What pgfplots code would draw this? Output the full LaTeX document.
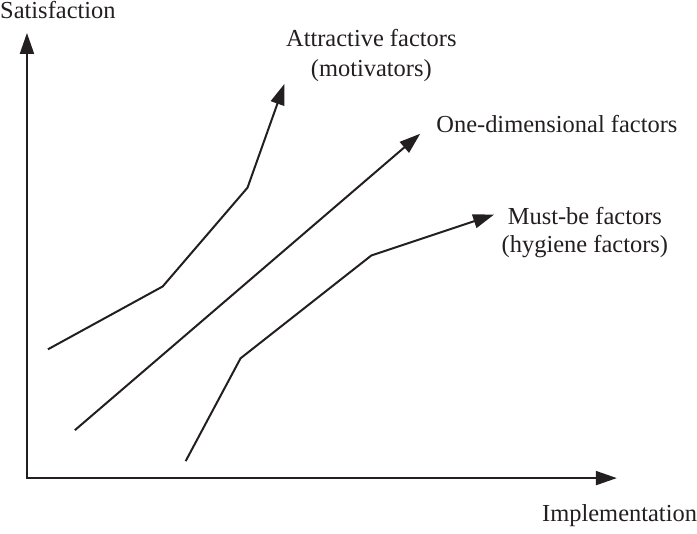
\documentclass[border=0pt]{standalone}
\usepackage{pgfplots}
\pgfplotsset{compat=1.18}
\usepackage{fontspec}
\setmainfont{Liberation Serif}
\usetikzlibrary{arrows.meta}
\definecolor{ink}{HTML}{231F20}
\begin{document}
\begin{tikzpicture}
\begin{axis}[
  width=697pt, height=535pt, scale only axis,
  xmin=0, xmax=697, ymin=0, ymax=535,
  hide axis, clip=false,
  every axis plot/.append style={line width=2pt, color=ink, mark=none},
]
\addplot[draw=none] coordinates {(0,0) (697,535)};
% axes
\addplot[-{Triangle[length=21pt,width=14pt]}] coordinates {(27,56) (27,502)};
\addplot[-{Triangle[length=21pt,width=14pt]}] coordinates {(26,56) (618,56)};
% attractive
\addplot[-{Triangle[length=21pt,width=14pt]}] coordinates {(48,185) (163,248) (248,347) (285,451)};
% one-dimensional
\addplot[-{Triangle[length=21pt,width=14pt]}] coordinates {(75,104) (421,401)};
% must-be
\addplot[-{Triangle[length=21pt,width=14pt]}] coordinates {(186,73) (241,176) (372,279) (495,320)};
\begin{scope}[every node/.style={font=\fontsize{24.5}{28}\selectfont, text=ink, inner sep=0pt}]
\node[anchor=base west] at (axis cs:0,516) {Satisfaction};
\node[anchor=base] at (axis cs:372,488) {Attractive factors};
\node[anchor=base] at (axis cs:372,458) {(motivators)};
\node[anchor=base west] at (axis cs:437,402) {One-dimensional factors};
\node[anchor=base] at (axis cs:586,310) {Must-be factors};
\node[anchor=base] at (axis cs:586,282) {(hygiene factors)};
\node[anchor=base west] at (axis cs:543,13) {Implementation};
\end{scope}
\end{axis}
\end{tikzpicture}
\end{document}
